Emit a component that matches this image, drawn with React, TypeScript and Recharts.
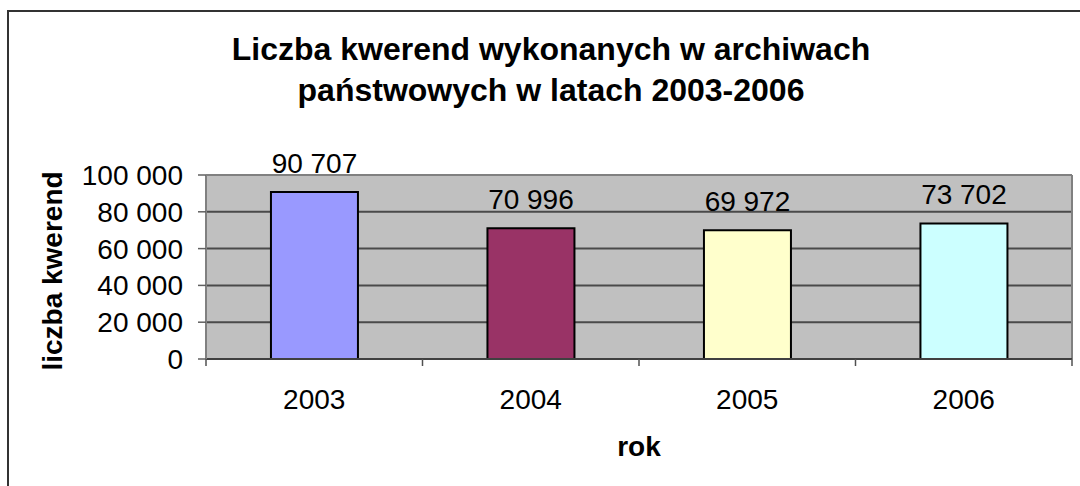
import React from 'react';
import { BarChart, Bar, XAxis, YAxis, CartesianGrid, Cell, LabelList, ReferenceLine, Label } from 'recharts';

const years = ['2003', '2004', '2005', '2006'];
const queries = [90707, 70996, 69972, 73702];
const barColors = ['#9999FF', '#993366', '#FFFFCC', '#CCFFFF'];
const yTicks = [0, 20000, 40000, 60000, 80000, 100000];

const data = years.map((year, i) => ({ year, value: queries[i] }));

const FONT = '"Liberation Sans", Arial, sans-serif';
const X_TICK_SIZE = 7;
const X_TICK_MARGIN = 23;

// 100000 -> "100 000"
const fmt = (v: number | string) => String(v).replace(/\B(?=(\d{3})+(?!\d))/g, ' ');

// year label in the middle of the band, tick marks on the band edges (Excel style)
const YearTick = (props: any) => {
  const { x, y, payload, index, visibleTicksCount } = props;
  const half = payload.offset || 0;
  const axisY = y - X_TICK_SIZE - X_TICK_MARGIN;
  const isLast = index === visibleTicksCount - 1;
  return (
    <g>
      <line x1={x - half} x2={x - half} y1={axisY} y2={axisY + X_TICK_SIZE} stroke="#505050" strokeWidth={1.5} />
      {isLast && (
        <line x1={x + half} x2={x + half} y1={axisY} y2={axisY + X_TICK_SIZE} stroke="#505050" strokeWidth={1.5} />
      )}
      <text x={x} y={y} dy="0.71em" textAnchor="middle" fontFamily={FONT} fontSize={28} fill="#000">
        {payload.value}
      </text>
    </g>
  );
};

const YTitle = (props: any) => {
  const vb = props.viewBox;
  const x = vb.x + 62;
  const y = 271;
  return (
    <text x={x} y={y} transform={`rotate(-90 ${x} ${y})`} textAnchor="middle"
      fontFamily={FONT} fontSize={28} fontWeight="bold" fill="#000">
      liczba kwerend
    </text>
  );
};

const XTitle = (props: any) => {
  const vb = props.viewBox;
  return (
    <text x={vb.x + vb.width / 2} y={456} textAnchor="middle"
      fontFamily={FONT} fontSize={28} fontWeight="bold" fill="#000">
      rok
    </text>
  );
};

export default function App() {
  return (
    <div style={{ position: 'relative', width: 1080, height: 486, background: '#fff', overflow: 'hidden' }}>
      <style>{'body{margin:0}'}</style>
      <div style={{ position: 'absolute', left: 7, top: 10, width: 1200, height: 600, borderLeft: '2px solid #333', borderTop: '2px solid #333' }} />
      <div style={{
        position: 'absolute', left: 551, top: 29, transform: 'translateX(-50%)', whiteSpace: 'nowrap',
        textAlign: 'center', fontFamily: FONT, fontSize: 32, fontWeight: 'bold', lineHeight: '41px', color: '#000',
      }}>
        Liczba kwerend wykonanych w archiwach<br />państwowych w latach 2003-2006
      </div>
      <div style={{ position: 'absolute', left: 0, top: 0 }}>
        <BarChart width={1080} height={486} data={data} barCategoryGap="30%"
          margin={{ top: 175, right: 8, bottom: 0, left: 0 }}>
          <CartesianGrid vertical={false} stroke="#4a4a4a" strokeWidth={2} fill="#C0C0C0" />
          <CartesianGrid horizontal={false} stroke="#808080" strokeWidth={2}
            verticalCoordinatesGenerator={({ offset }: any) => [offset.left + offset.width]} />
          <XAxis dataKey="year" height={127} tickLine={false} tickSize={X_TICK_SIZE} tickMargin={X_TICK_MARGIN}
            axisLine={{ stroke: '#404040', strokeWidth: 2 }} tick={<YearTick />}>
            <Label content={XTitle} />
          </XAxis>
          <YAxis width={206} domain={[0, 100000]} ticks={yTicks} interval={0} tickFormatter={fmt}
            tickSize={8} tickMargin={15} tickLine={{ stroke: '#606060', strokeWidth: 1.5 }}
            axisLine={{ stroke: '#808080', strokeWidth: 2 }}
            tick={{ fontFamily: FONT, fontSize: 28, fill: '#000' }}>
            <Label content={YTitle} />
          </YAxis>
          <ReferenceLine y={100000} stroke="#808080" strokeWidth={2} />
          <Bar dataKey="value" stroke="#000" strokeWidth={2} isAnimationActive={false}>
            {data.map((d, i) => (
              <Cell key={d.year} fill={barColors[i]} />
            ))}
            <LabelList dataKey="value" position="top" offset={19} formatter={fmt}
              style={{ fontFamily: FONT, fontSize: 28, fill: '#000' }} />
          </Bar>
        </BarChart>
      </div>
    </div>
  );
}
